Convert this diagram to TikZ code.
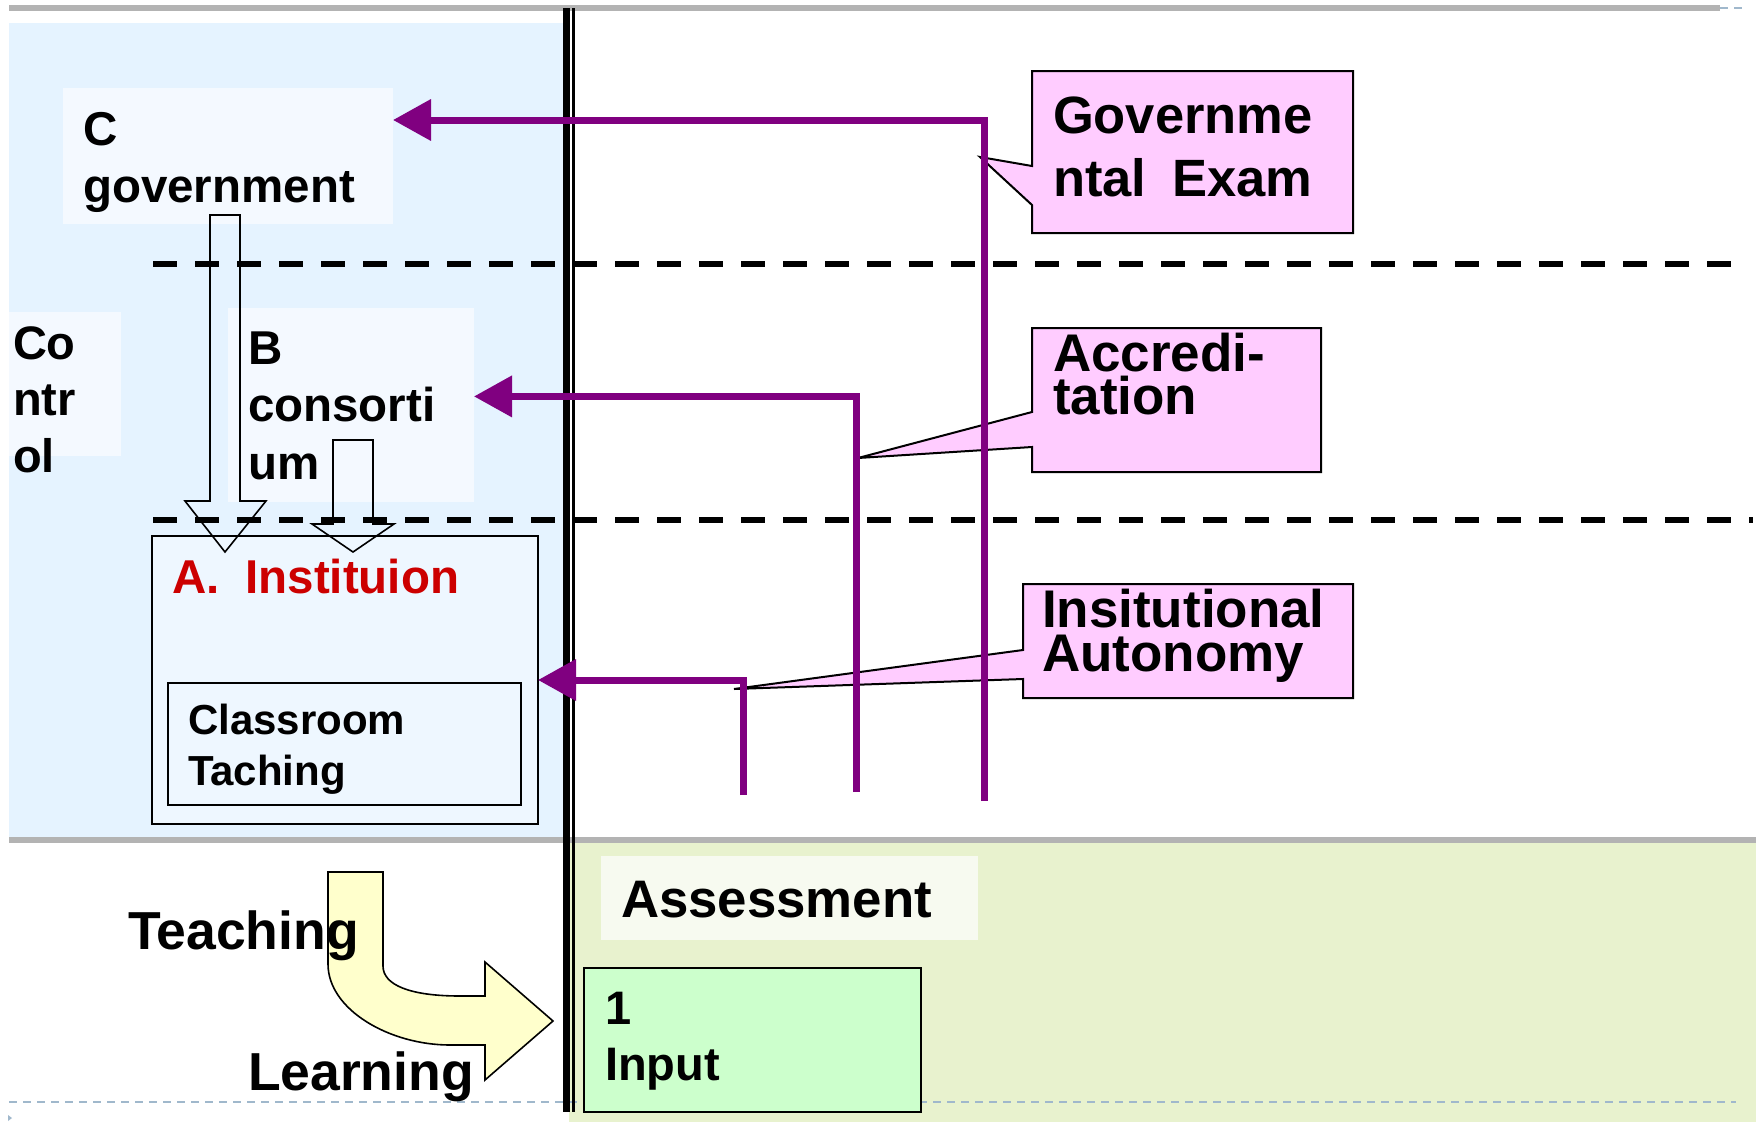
\documentclass[tikz,border=0pt]{standalone}
\usepackage{fontspec}
\setmainfont{Liberation Sans}
\usetikzlibrary{arrows.meta}
\definecolor{bgblue}{HTML}{E5F3FF}
\definecolor{boxblue}{HTML}{F4F9FF}
\definecolor{instblue}{HTML}{EEF7FF}
\definecolor{bggreen}{HTML}{E8F2CE}
\definecolor{assessfill}{HTML}{F7FAF0}
\definecolor{inputfill}{HTML}{CCFFCC}
\definecolor{pinkfill}{HTML}{FFCCFF}
\definecolor{yellowfill}{HTML}{FFFFCC}
\definecolor{sepgray}{HTML}{B3B3B3}
\definecolor{dashblue}{HTML}{A0B8CC}
\definecolor{purp}{HTML}{800080}
\definecolor{redtext}{HTML}{CC0000}
\newcommand{\mltext}[1]{\parbox[t]{500pt}{\raggedright #1}}
\begin{document}
\begin{tikzpicture}[x=1pt,y=-1pt,
  area/.style={anchor=north west, inner sep=0pt, outer sep=0pt},
  txt/.style={anchor=base west, inner sep=0pt, outer sep=0pt},
  purpline/.style={draw=purp, line width=7pt, -{Triangle[length=38pt,width=40pt]}},
  hollow/.style={draw=black, line width=1.6pt, line join=miter},
  callout/.style={draw=black, line width=2pt, fill=pinkfill},
  sep/.style={draw=sepgray, line width=6pt},
  level/.style={draw=black, line width=6pt, dash pattern=on 24pt off 18pt},
  finedash/.style={draw=dashblue, line width=2pt, dash pattern=on 8pt off 6pt}
]
\useasboundingbox (0,0) rectangle (1756,1122);
\fill[white] (0,0) rectangle (1756,1122);

% backgrounds
\fill[bgblue] (9,23) rectangle (563,837);
\fill[bggreen] (569,843) rectangle (1756,1122);

% top and middle separators
\draw[finedash] (1720,7.7) -- (1742,7.7);
\draw[sep] (9,8) -- (1720,8);
\draw[sep] (9,840) -- (1756,840);

% bottom fine dashed line
\draw[finedash] (9,1102) -- (1736,1102);
\fill[dashblue] (8,1115) -- (12,1118) -- (8,1121) -- cycle;

% boxes on the left
\node[area, fill=boxblue, minimum width=330pt, minimum height=136pt] (C) at (63,88) {};
\node[area, fill=boxblue, minimum width=112pt, minimum height=144pt] (ctl) at (9,312) {};
\node[area, fill=boxblue, minimum width=246pt, minimum height=194pt] (B) at (228,308) {};
\node[area, fill=instblue, draw=black, line width=2pt, minimum width=386pt, minimum height=288pt] (A) at (152,536) {};
\node[area, draw=black, line width=2pt, minimum width=353pt, minimum height=122pt] (cls) at (168,683) {};

% level dashed lines
\draw[level] (153,264) -- (1736,264);
\draw[level] (153,520) -- (1753,520);

% hollow arrows down to A
\draw[hollow] (210,215) -- (240,215) -- (240,501) -- (266,501) -- (225,552) -- (185,501) -- (210,501) -- cycle;
\draw[hollow] (333,440) -- (373,440) -- (373,524) -- (394,524) -- (353,552) -- (312,524) -- (333,524) -- cycle;

% vertical double black line
\draw[black, line width=7pt] (566.5,8) -- (566.5,1112);
\draw[black, line width=2.4pt] (573.5,8) -- (573.5,1112);

% callouts
\draw[callout] (1032,71) -- (1353,71) -- (1353,233) -- (1032,233) -- (1032,205) -- (980,157) -- (1032,166) -- cycle;
\draw[callout] (1032,328) -- (1321,328) -- (1321,472) -- (1032,472) -- (1032,447) -- (858,458) -- (1032,412) -- cycle;
\draw[callout] (1023,584) -- (1353,584) -- (1353,698) -- (1023,698) -- (1023,679) -- (734,689) -- (1023,650) -- cycle;

% purple connectors
\coordinate (gC) at (984,801);
\coordinate (gB) at (856.5,792);
\coordinate (gA) at (743,795);
\draw[purpline] (gC) |- ([yshift=36pt]C.east);
\draw[purpline] (gB) |- ([yshift=8.6pt]B.east);
\draw[purpline] (gA) |- (A.east);

% bottom boxes
\node[area, fill=assessfill, minimum width=377pt, minimum height=84pt] (ass) at (601,856) {};
\node[area, fill=inputfill, draw=black, line width=2.5pt, minimum width=337pt, minimum height=144pt] (inp) at (584,968) {};

% yellow bent arrow
\draw[fill=yellowfill, draw=black, line width=1.6pt, line join=miter]
  (328,872) -- (383,872) -- (383,966)
  .. controls (383,985) and (410,996) .. (460,996)
  -- (485,996) -- (485,962) -- (553,1021) -- (485,1080) -- (485,1045) -- (450,1045)
  .. controls (390,1045) and (328,1010) .. (328,964) -- cycle;

% texts
\node[txt, font={\fontsize{47.5}{57}\selectfont\bfseries}] (tC) at (83,145) {\mltext{C\\government}};
\node[txt, font={\fontsize{47}{56.5}\selectfont\bfseries}] (tctl) at (13,359) {\mltext{Co\\ntr\\ol}};
\node[txt, font={\fontsize{47.5}{57.5}\selectfont\bfseries}] (tB) at (248,364) {\mltext{B\\consorti\\um}};
\node[txt, text=redtext, font={\fontsize{47.5}{57}\selectfont\bfseries}] (tA) at (172,593) {A.\hspace{26pt}Instituion};
\node[txt, font={\fontsize{42}{51.6}\selectfont\bfseries}] (tcls) at (188,734) {\mltext{Classroom\\Taching}};
\node[txt, font={\fontsize{53.5}{62}\selectfont\bfseries}] (tteach) at (128,949) {Teaching};
\node[txt, font={\fontsize{53.5}{62}\selectfont\bfseries}] (tlearn) at (248,1090) {Learning};
\node[txt, font={\fontsize{52.5}{63}\selectfont\bfseries}] (tgov) at (1053,133) {\mltext{Governme\\ntal\hspace{26pt}Exam}};
\node[txt, font={\fontsize{53}{43.5}\selectfont\bfseries}] (tacc) at (1053,371) {\mltext{Accredi-\\tation}};
\node[txt, font={\fontsize{53}{44}\selectfont\bfseries}] (tinst) at (1042,627) {\mltext{Insitutional\\Autonomy}};
\node[txt, font={\fontsize{52.8}{62}\selectfont\bfseries}] (tass) at (621,917.5) {Assessment};
\node[txt, font={\fontsize{47}{56}\selectfont\bfseries}] (tinp) at (605,1024) {\mltext{1\\Input}};
\end{tikzpicture}
\end{document}
